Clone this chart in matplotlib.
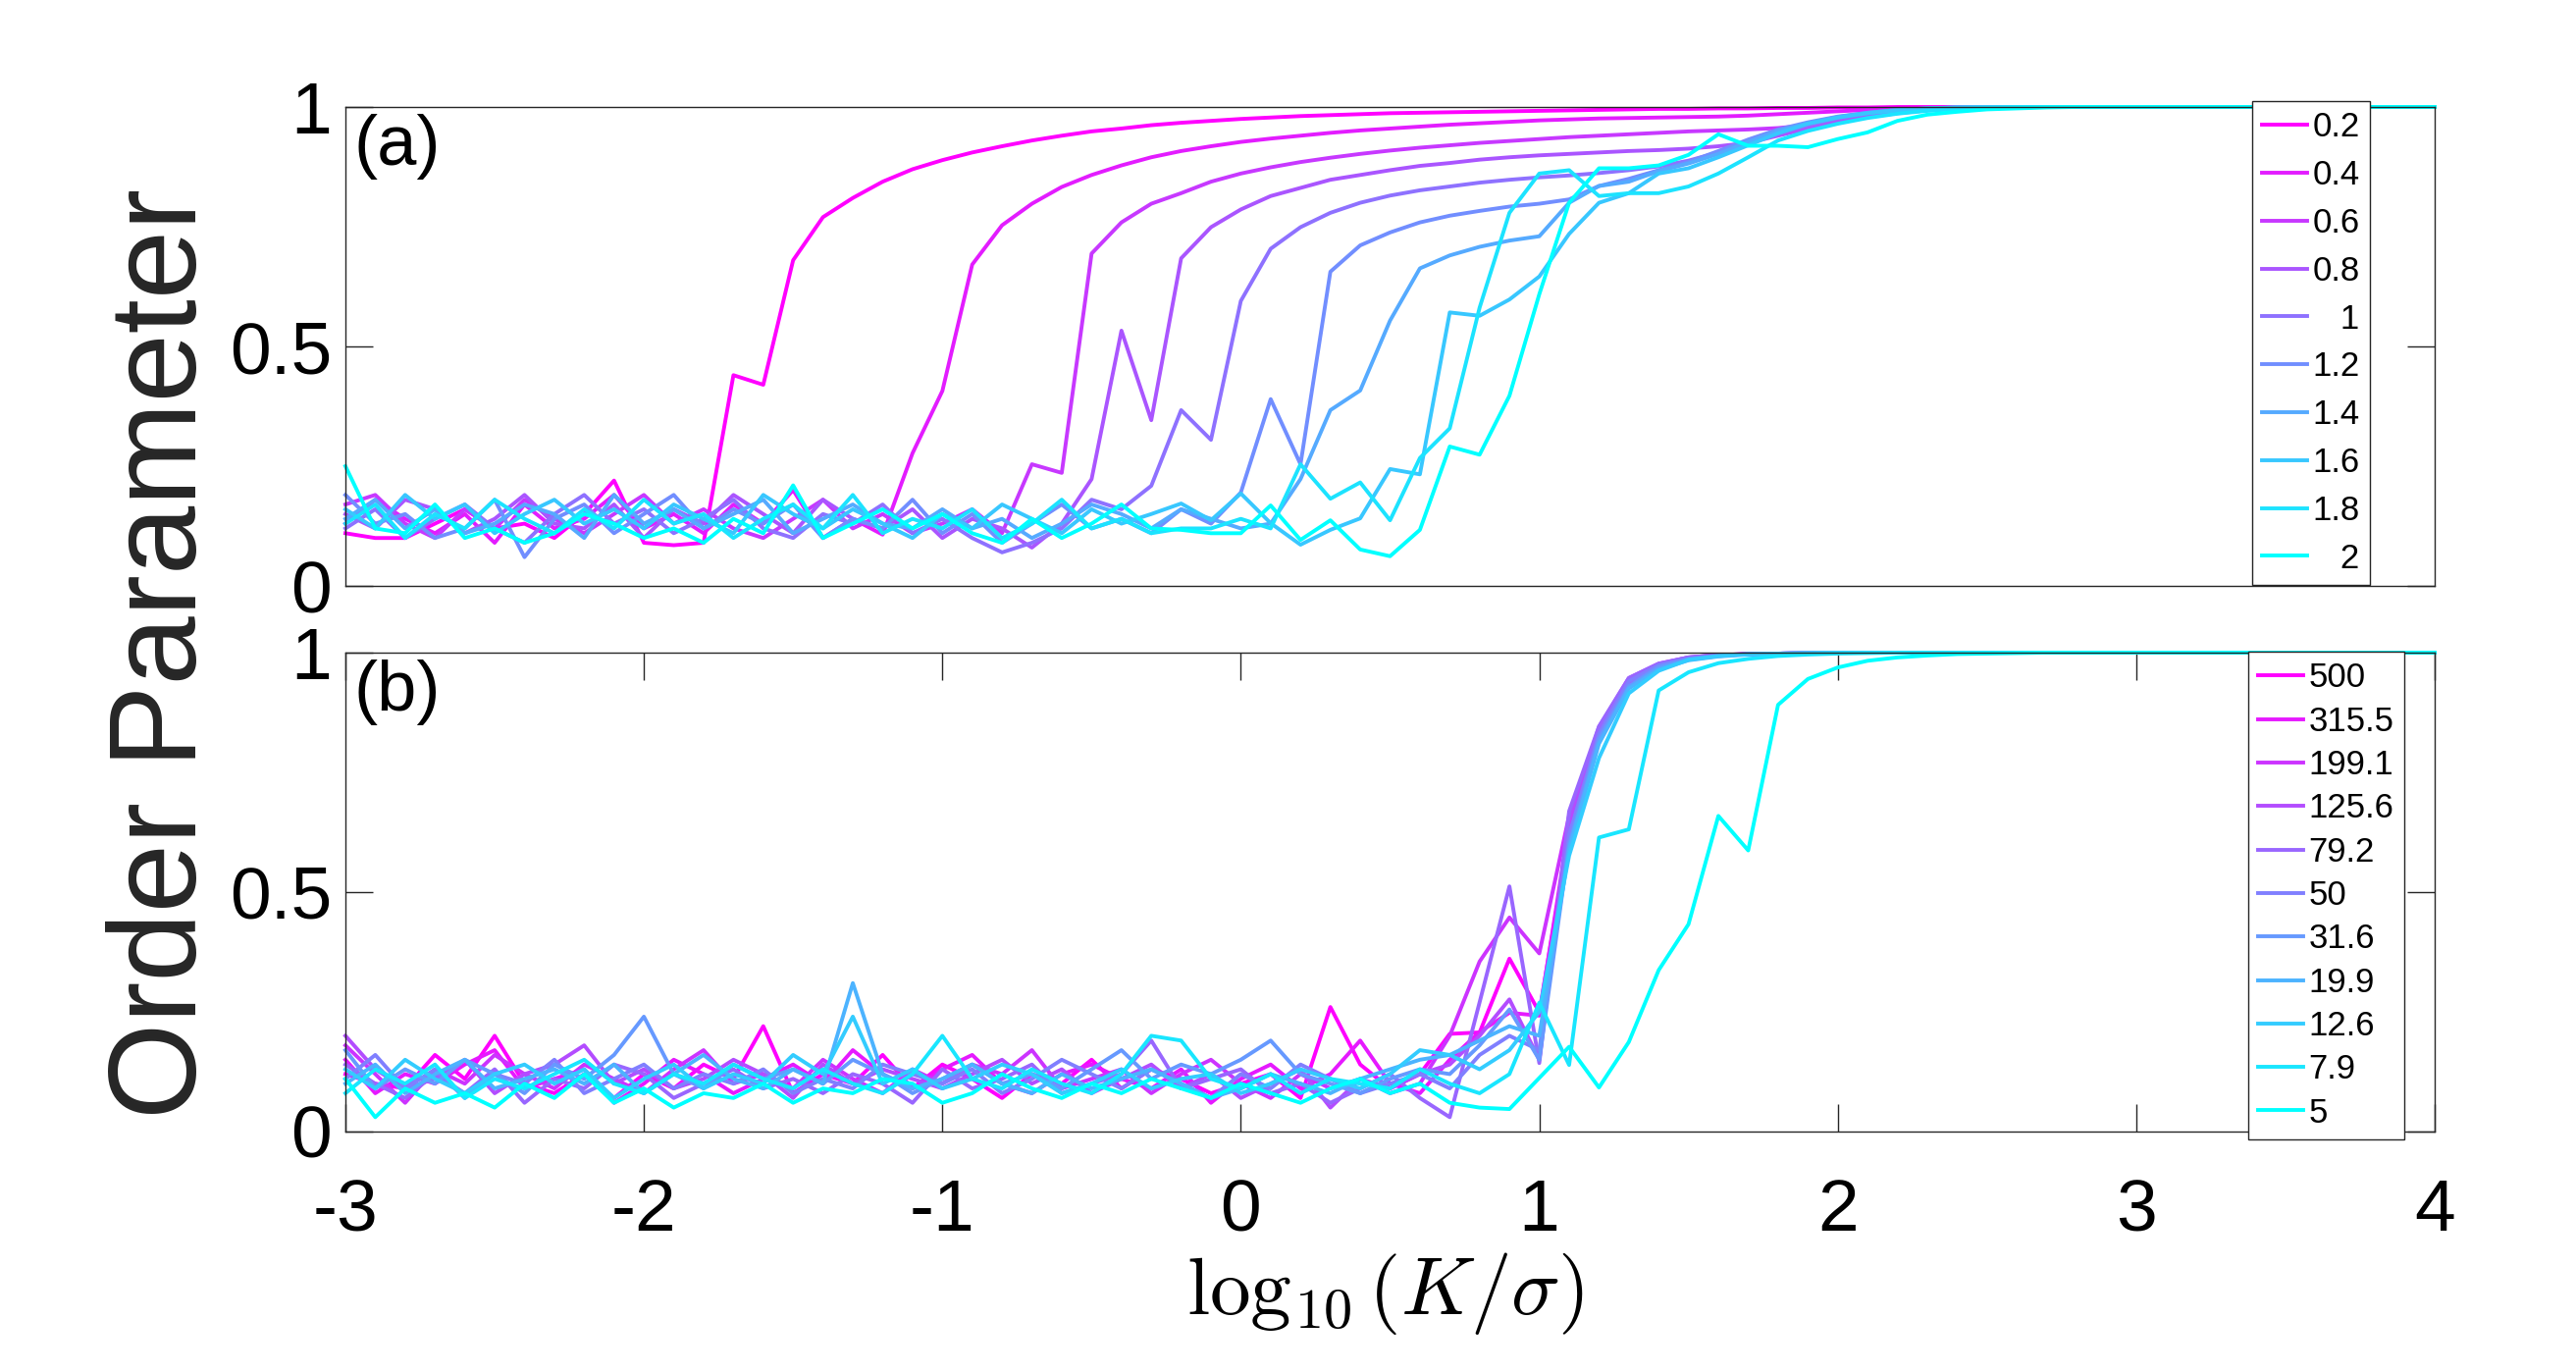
import numpy as np
import matplotlib
matplotlib.use('Agg')
import matplotlib.pyplot as plt

plt.rcParams['font.family'] = ['Liberation Sans', 'DejaVu Sans']
plt.rcParams['mathtext.fontset'] = 'cm'
plt.rcParams['axes.unicode_minus'] = False

# ---------------- data ----------------
log_k = np.linspace(-3, 4, 71)          # log10(K/sigma), step 0.1

labels_a = ['0.2', '0.4', '0.6', '0.8', '   1', '1.2', '1.4', '1.6', '1.8', '   2']

a_02 = [0.11, 0.10, 0.10, 0.13, 0.16, 0.12, 0.13, 0.10, 0.15, 0.22,
        0.09, 0.085, 0.09, 0.44, 0.42, 0.68, 0.77, 0.81, 0.844, 0.87,
        0.889, 0.905, 0.918, 0.93, 0.94, 0.949, 0.955, 0.962, 0.967, 0.971,
        0.975, 0.978, 0.981, 0.983, 0.985, 0.987, 0.988, 0.989, 0.99, 0.991,
        0.992, 0.993, 0.994, 0.995, 0.996, 0.996, 0.997, 0.997, 0.998, 0.998,
        0.999, 0.999, 1, 1, 1, 1, 1, 1, 1, 1,
        1, 1, 1, 1, 1, 1, 1, 1, 1, 1, 1]
a_04 = [0.13, 0.18, 0.14, 0.11, 0.15, 0.09, 0.17, 0.12, 0.14, 0.19,
        0.12, 0.15, 0.11, 0.17, 0.13, 0.20, 0.10, 0.14, 0.107, 0.277,
        0.407, 0.671, 0.753, 0.798, 0.833, 0.858, 0.878, 0.895, 0.908, 0.918,
        0.927, 0.934, 0.94, 0.946, 0.951, 0.955, 0.959, 0.963, 0.966, 0.969,
        0.972, 0.974, 0.976, 0.977, 0.978, 0.979, 0.98, 0.982, 0.985, 0.988,
        0.991, 0.994, 0.996, 0.998, 0.999, 1, 1, 1, 1, 1,
        1, 1, 1, 1, 1, 1, 1, 1, 1, 1, 1]
a_06 = [0.17, 0.19, 0.13, 0.10, 0.16, 0.12, 0.18, 0.14, 0.11, 0.15,
        0.19, 0.13, 0.16, 0.12, 0.10, 0.14, 0.18, 0.12, 0.15, 0.11,
        0.13, 0.16, 0.11, 0.254, 0.236, 0.694, 0.759, 0.798, 0.82, 0.844,
        0.861, 0.874, 0.885, 0.894, 0.902, 0.909, 0.915, 0.92, 0.925, 0.929,
        0.933, 0.937, 0.94, 0.943, 0.946, 0.949, 0.951, 0.953, 0.956, 0.962,
        0.97, 0.979, 0.987, 0.993, 0.997, 0.999, 1, 1, 1, 1,
        1, 1, 1, 1, 1, 1, 1, 1, 1, 1, 1]
a_08 = [0.15, 0.12, 0.18, 0.16, 0.11, 0.14, 0.19, 0.13, 0.12, 0.17,
        0.10, 0.16, 0.13, 0.19, 0.15, 0.11, 0.18, 0.14, 0.12, 0.16,
        0.10, 0.14, 0.12, 0.08, 0.13, 0.223, 0.533, 0.346, 0.684, 0.749,
        0.786, 0.814, 0.831, 0.848, 0.858, 0.868, 0.877, 0.883, 0.89, 0.895,
        0.899, 0.902, 0.905, 0.908, 0.91, 0.913, 0.918, 0.925, 0.94, 0.955,
        0.97, 0.982, 0.991, 0.996, 0.999, 1, 1, 1, 1, 1,
        1, 1, 1, 1, 1, 1, 1, 1, 1, 1, 1]
a_10 = [0.12, 0.16, 0.10, 0.14, 0.17, 0.12, 0.09, 0.15, 0.19, 0.13,
        0.16, 0.11, 0.14, 0.18, 0.12, 0.10, 0.15, 0.13, 0.17, 0.11,
        0.14, 0.10, 0.07, 0.09, 0.12, 0.18, 0.16, 0.209, 0.367, 0.305,
        0.595, 0.704, 0.749, 0.779, 0.80, 0.815, 0.826, 0.834, 0.842, 0.848,
        0.853, 0.857, 0.862, 0.868, 0.876, 0.888, 0.905, 0.925, 0.945, 0.962,
        0.976, 0.986, 0.992, 0.996, 0.998, 1, 1, 1, 1, 1,
        1, 1, 1, 1, 1, 1, 1, 1, 1, 1, 1]
a_12 = [0.19, 0.13, 0.15, 0.10, 0.12, 0.18, 0.06, 0.14, 0.17, 0.11,
        0.15, 0.19, 0.12, 0.16, 0.13, 0.17, 0.10, 0.14, 0.12, 0.18,
        0.11, 0.15, 0.09, 0.13, 0.17, 0.12, 0.14, 0.11, 0.16, 0.13,
        0.195, 0.39, 0.254, 0.656, 0.711, 0.738, 0.759, 0.773, 0.783, 0.792,
        0.798, 0.807, 0.835, 0.85, 0.868, 0.885, 0.908, 0.932, 0.953, 0.968,
        0.98, 0.988, 0.994, 0.997, 0.999, 1, 1, 1, 1, 1,
        1, 1, 1, 1, 1, 1, 1, 1, 1, 1, 1]
a_14 = [0.14, 0.18, 0.12, 0.16, 0.11, 0.13, 0.17, 0.15, 0.10, 0.19,
        0.13, 0.16, 0.12, 0.15, 0.18, 0.11, 0.14, 0.17, 0.13, 0.12,
        0.16, 0.12, 0.14, 0.10, 0.13, 0.17, 0.15, 0.12, 0.16, 0.14,
        0.12, 0.13, 0.223, 0.367, 0.408, 0.554, 0.663, 0.69, 0.708, 0.721,
        0.73, 0.80, 0.835, 0.844, 0.866, 0.882, 0.902, 0.927, 0.95, 0.966,
        0.979, 0.988, 0.994, 0.997, 0.999, 1, 1, 1, 1, 1,
        1, 1, 1, 1, 1, 1, 1, 1, 1, 1, 1]
a_16 = [0.16, 0.12, 0.19, 0.14, 0.17, 0.11, 0.15, 0.18, 0.13, 0.16,
        0.12, 0.17, 0.14, 0.11, 0.19, 0.15, 0.12, 0.16, 0.13, 0.10,
        0.15, 0.12, 0.17, 0.14, 0.11, 0.16, 0.13, 0.15, 0.172, 0.137,
        0.193, 0.131, 0.086, 0.117, 0.141, 0.244, 0.233, 0.571, 0.564, 0.598,
        0.646, 0.735, 0.80, 0.82, 0.861, 0.872, 0.895, 0.92, 0.945, 0.965,
        0.978, 0.987, 0.993, 0.997, 0.999, 1, 1, 1, 1, 1,
        1, 1, 1, 1, 1, 1, 1, 1, 1, 1, 1]
a_18 = [0.13, 0.17, 0.10, 0.15, 0.12, 0.18, 0.14, 0.11, 0.16, 0.12,
        0.18, 0.13, 0.15, 0.10, 0.14, 0.17, 0.12, 0.19, 0.11, 0.14,
        0.12, 0.16, 0.10, 0.13, 0.18, 0.12, 0.14, 0.11, 0.12, 0.12,
        0.14, 0.12, 0.254, 0.182, 0.216, 0.137, 0.267, 0.329, 0.581, 0.779,
        0.861, 0.868, 0.814, 0.82, 0.82, 0.834, 0.861, 0.895, 0.93, 0.95,
        0.965, 0.977, 0.986, 0.992, 0.996, 0.998, 1, 1, 1, 1,
        1, 1, 1, 1, 1, 1, 1, 1, 1, 1, 1]
a_20 = [0.25, 0.12, 0.11, 0.17, 0.10, 0.12, 0.09, 0.11, 0.15, 0.13,
        0.10, 0.12, 0.09, 0.14, 0.11, 0.21, 0.10, 0.13, 0.16, 0.12,
        0.15, 0.11, 0.09, 0.14, 0.10, 0.13, 0.17, 0.12, 0.117, 0.11,
        0.11, 0.168, 0.096, 0.137, 0.076, 0.062, 0.117, 0.291, 0.274, 0.397,
        0.609, 0.80, 0.872, 0.872, 0.878, 0.90, 0.943, 0.919, 0.919, 0.916,
        0.933, 0.947, 0.971, 0.984, 0.99, 0.995, 0.997, 0.999, 1, 1,
        1, 1, 1, 1, 1, 1, 1, 1, 1, 1, 1]

labels_b = ['500', '315.5', '199.1', '125.6', '79.2', '50', '31.6', '19.9', '12.6', '7.9', '5']

b_500 = [0.12, 0.10, 0.09, 0.16, 0.11, 0.20, 0.10, 0.08, 0.12, 0.07,
         0.12, 0.09, 0.14, 0.11, 0.22, 0.08, 0.12, 0.10, 0.16, 0.09,
         0.14, 0.11, 0.07, 0.12, 0.10, 0.15, 0.09, 0.13, 0.11, 0.08,
         0.10, 0.12, 0.07, 0.26, 0.14, 0.09, 0.12, 0.204, 0.207, 0.361,
         0.249, 0.62, 0.83, 0.935, 0.972, 0.988, 0.994, 0.997, 0.998, 0.999,
         1, 1, 1, 1, 1, 1, 1, 1, 1, 1,
         1, 1, 1, 1, 1, 1, 1, 1, 1, 1, 1]
b_3155 = [0.15, 0.08, 0.12, 0.10, 0.14, 0.17, 0.09, 0.11, 0.13, 0.06,
          0.10, 0.15, 0.12, 0.08, 0.11, 0.14, 0.10, 0.17, 0.12, 0.09,
          0.13, 0.16, 0.10, 0.08, 0.12, 0.14, 0.11, 0.09, 0.13, 0.06,
          0.11, 0.14, 0.09, 0.12, 0.19, 0.10, 0.08, 0.15, 0.208, 0.248,
          0.242, 0.64, 0.835, 0.94, 0.975, 0.989, 0.995, 0.997, 0.998, 0.999,
          1, 1, 1, 1, 1, 1, 1, 1, 1, 1,
          1, 1, 1, 1, 1, 1, 1, 1, 1, 1, 1]
b_1991 = [0.18, 0.12, 0.06, 0.13, 0.10, 0.16, 0.12, 0.09, 0.14, 0.11,
          0.08, 0.13, 0.17, 0.10, 0.12, 0.09, 0.15, 0.11, 0.08, 0.13,
          0.10, 0.14, 0.12, 0.17, 0.09, 0.11, 0.13, 0.08, 0.12, 0.15,
          0.10, 0.07, 0.12, 0.09, 0.11, 0.08, 0.10, 0.20, 0.355, 0.447,
          0.372, 0.66, 0.84, 0.945, 0.976, 0.99, 0.995, 0.997, 0.998, 0.999,
          1, 1, 1, 1, 1, 1, 1, 1, 1, 1,
          1, 1, 1, 1, 1, 1, 1, 1, 1, 1, 1]
b_1256 = [0.20, 0.13, 0.09, 0.11, 0.15, 0.08, 0.12, 0.14, 0.18, 0.10,
          0.13, 0.09, 0.11, 0.15, 0.12, 0.07, 0.14, 0.10, 0.13, 0.11,
          0.09, 0.12, 0.15, 0.10, 0.13, 0.08, 0.11, 0.14, 0.09, 0.12,
          0.07, 0.10, 0.13, 0.05, 0.11, 0.09, 0.12, 0.14, 0.20, 0.276,
          0.15, 0.65, 0.845, 0.947, 0.977, 0.99, 0.995, 0.997, 0.998, 0.999,
          1, 1, 1, 1, 1, 1, 1, 1, 1, 1,
          1, 1, 1, 1, 1, 1, 1, 1, 1, 1, 1]
b_792 = [0.14, 0.10, 0.07, 0.12, 0.08, 0.13, 0.06, 0.11, 0.09, 0.14,
         0.12, 0.07, 0.10, 0.13, 0.09, 0.11, 0.08, 0.12, 0.10, 0.06,
         0.13, 0.09, 0.11, 0.14, 0.08, 0.10, 0.12, 0.19, 0.09, 0.11,
         0.13, 0.08, 0.10, 0.06, 0.09, 0.12, 0.07, 0.03, 0.27, 0.512,
         0.143, 0.669, 0.846, 0.947, 0.977, 0.99, 0.995, 0.997, 0.998, 0.999,
         1, 1, 1, 1, 1, 1, 1, 1, 1, 1,
         1, 1, 1, 1, 1, 1, 1, 1, 1, 1, 1]
b_50 = [0.11, 0.16, 0.09, 0.13, 0.07, 0.12, 0.10, 0.15, 0.08, 0.11,
        0.14, 0.09, 0.12, 0.10, 0.13, 0.08, 0.11, 0.09, 0.14, 0.12,
        0.10, 0.13, 0.08, 0.11, 0.15, 0.12, 0.09, 0.13, 0.10, 0.07,
        0.12, 0.09, 0.14, 0.11, 0.08, 0.10, 0.12, 0.09, 0.16, 0.20,
        0.17, 0.62, 0.83, 0.94, 0.974, 0.988, 0.994, 0.997, 0.998, 0.999,
        1, 1, 1, 1, 1, 1, 1, 1, 1, 1,
        1, 1, 1, 1, 1, 1, 1, 1, 1, 1, 1]
b_316 = [0.17, 0.09, 0.13, 0.10, 0.15, 0.12, 0.08, 0.14, 0.11, 0.16,
         0.24, 0.12, 0.09, 0.14, 0.11, 0.13, 0.10, 0.15, 0.12, 0.08,
         0.11, 0.14, 0.10, 0.12, 0.09, 0.13, 0.17, 0.11, 0.14, 0.12,
         0.15, 0.19, 0.12, 0.10, 0.08, 0.11, 0.13, 0.12, 0.18, 0.255,
         0.15, 0.60, 0.82, 0.93, 0.97, 0.986, 0.993, 0.997, 0.998, 0.999,
         1, 1, 1, 1, 1, 1, 1, 1, 1, 1,
         1, 1, 1, 1, 1, 1, 1, 1, 1, 1, 1]
b_199 = [0.10, 0.14, 0.08, 0.12, 0.15, 0.09, 0.11, 0.13, 0.10, 0.14,
         0.08, 0.12, 0.16, 0.11, 0.09, 0.13, 0.10, 0.31, 0.12, 0.09,
         0.11, 0.14, 0.10, 0.08, 0.12, 0.09, 0.11, 0.13, 0.10, 0.07,
         0.09, 0.12, 0.10, 0.08, 0.11, 0.13, 0.15, 0.16, 0.19, 0.22,
         0.20, 0.59, 0.81, 0.925, 0.965, 0.984, 0.992, 0.996, 0.998, 0.999,
         1, 1, 1, 1, 1, 1, 1, 1, 1, 1,
         1, 1, 1, 1, 1, 1, 1, 1, 1, 1, 1]
b_126 = [0.13, 0.09, 0.15, 0.11, 0.08, 0.12, 0.14, 0.10, 0.13, 0.07,
         0.11, 0.14, 0.09, 0.12, 0.10, 0.16, 0.12, 0.24, 0.10, 0.13,
         0.09, 0.11, 0.14, 0.12, 0.08, 0.10, 0.13, 0.09, 0.11, 0.12,
         0.08, 0.10, 0.13, 0.11, 0.09, 0.12, 0.17, 0.16, 0.13, 0.17,
         0.25, 0.576, 0.78, 0.915, 0.962, 0.985, 0.993, 0.997, 0.998, 0.999,
         1, 1, 1, 1, 1, 1, 1, 1, 1, 1,
         1, 1, 1, 1, 1, 1, 1, 1, 1, 1, 1]
b_79 = [0.08, 0.13, 0.10, 0.14, 0.07, 0.11, 0.09, 0.12, 0.15, 0.10,
        0.08, 0.12, 0.10, 0.14, 0.11, 0.09, 0.13, 0.10, 0.08, 0.12,
        0.20, 0.11, 0.09, 0.13, 0.10, 0.08, 0.12, 0.20, 0.19, 0.11,
        0.09, 0.12, 0.08, 0.11, 0.10, 0.09, 0.13, 0.10, 0.08, 0.12,
        0.269, 0.139, 0.614, 0.631, 0.921, 0.959, 0.978, 0.987, 0.993, 0.996,
        0.998, 0.999, 1, 1, 1, 1, 1, 1, 1, 1,
        1, 1, 1, 1, 1, 1, 1, 1, 1, 1, 1]
b_5 = [0.11, 0.03, 0.09, 0.06, 0.08, 0.05, 0.10, 0.07, 0.12, 0.06,
       0.09, 0.05, 0.08, 0.07, 0.10, 0.06, 0.09, 0.08, 0.11, 0.10,
       0.06, 0.08, 0.12, 0.09, 0.07, 0.10, 0.08, 0.11, 0.09, 0.07,
       0.10, 0.08, 0.06, 0.09, 0.11, 0.08, 0.10, 0.06, 0.05, 0.047,
       0.112, 0.177, 0.092, 0.187, 0.337, 0.433, 0.659, 0.587, 0.891, 0.945,
       0.969, 0.983, 0.99, 0.994, 0.997, 0.998, 0.999, 1, 1, 1,
       1, 1, 1, 1, 1, 1, 1, 1, 1, 1, 1]

series_a = [a_02, a_04, a_06, a_08, a_10, a_12, a_14, a_16, a_18, a_20]
series_b = [b_500, b_3155, b_1991, b_1256, b_792, b_50, b_316, b_199, b_126, b_79, b_5]

y_ticks = [0, 0.5, 1]
y_ticklabels = ['0', '0.5', '1']
x_ticks = [-3, -2, -1, 0, 1, 2, 3, 4]
x_ticklabels = ['-3', '-2', '-1', '0', '1', '2', '3', '4']

# ---------------- figure ----------------
FW, FH = 2625, 1398
fig = plt.figure(figsize=(FW / 100, FH / 100), dpi=100)
left, right = 352, 2481
axA = fig.add_axes([left / FW, 1 - 597 / FH, (right - left) / FW, 488 / FH])
axB = fig.add_axes([left / FW, 1 - 1153 / FH, (right - left) / FW, 488 / FH])

edge = '#262626'
cmap = plt.get_cmap('cool')
LW = 2.8


def style(ax, show_x):
    ax.set_xlim(-3, 4)
    ax.set_ylim(0, 1)
    for s in ax.spines.values():
        s.set_color(edge)
        s.set_linewidth(1.0)
    ax.set_yticks(y_ticks)
    ax.set_yticklabels(y_ticklabels)
    if show_x:
        ax.set_xticks(x_ticks)
        ax.set_xticklabels(x_ticklabels)
    else:
        ax.set_xticks([])
    ax.tick_params(axis='both', direction='in', length=20, width=1.0,
                   color=edge, labelsize=54, labelcolor='black')
    ax.tick_params(axis='y', right=True, pad=10)
    ax.tick_params(axis='x', top=True, pad=34)


for i, (ys, lab) in enumerate(zip(series_a, labels_a)):
    c = cmap(1 - i / (len(series_a) - 1))
    axA.plot(log_k, ys, color=c, lw=LW, label=lab, clip_on=False)
for i, (ys, lab) in enumerate(zip(series_b, labels_b)):
    c = cmap(1 - i / (len(series_b) - 1))
    axB.plot(log_k, ys, color=c, lw=LW, label=lab, clip_on=False)

style(axA, False)
style(axB, True)

axA.text(0.004, 0.985, '(a)', transform=axA.transAxes, ha='left', va='top', fontsize=52)
axB.text(0.004, 0.985, '(b)', transform=axB.transAxes, ha='left', va='top', fontsize=52)

legkw = dict(loc='upper left', fontsize=25, frameon=True, fancybox=False,
             framealpha=1, edgecolor=edge, borderpad=0.3, handlelength=1.32,
             handletextpad=0.15, borderaxespad=0, bbox_transform=fig.transFigure)
legA = axA.legend(bbox_to_anchor=(2295 / FW, 1 - 103 / FH), labelspacing=0.455, **legkw)
legB = axB.legend(bbox_to_anchor=(2291 / FW, 1 - 664 / FH), labelspacing=0.326, **legkw)
for lg in (legA, legB):
    lg.get_frame().set_linewidth(1.0)
    lg.set_zorder(5)

fig.text(167 / FW, 1 - 666 / FH, 'Order Parameter', rotation=90, ha='center', va='center',
         fontsize=91, color=edge)
fig.text(1411 / FW, 1 - 1318 / FH, r'$\log_{10}(K/\sigma)$', ha='center', va='center',
         fontsize=60)

fig.savefig('out.png', dpi=100)
